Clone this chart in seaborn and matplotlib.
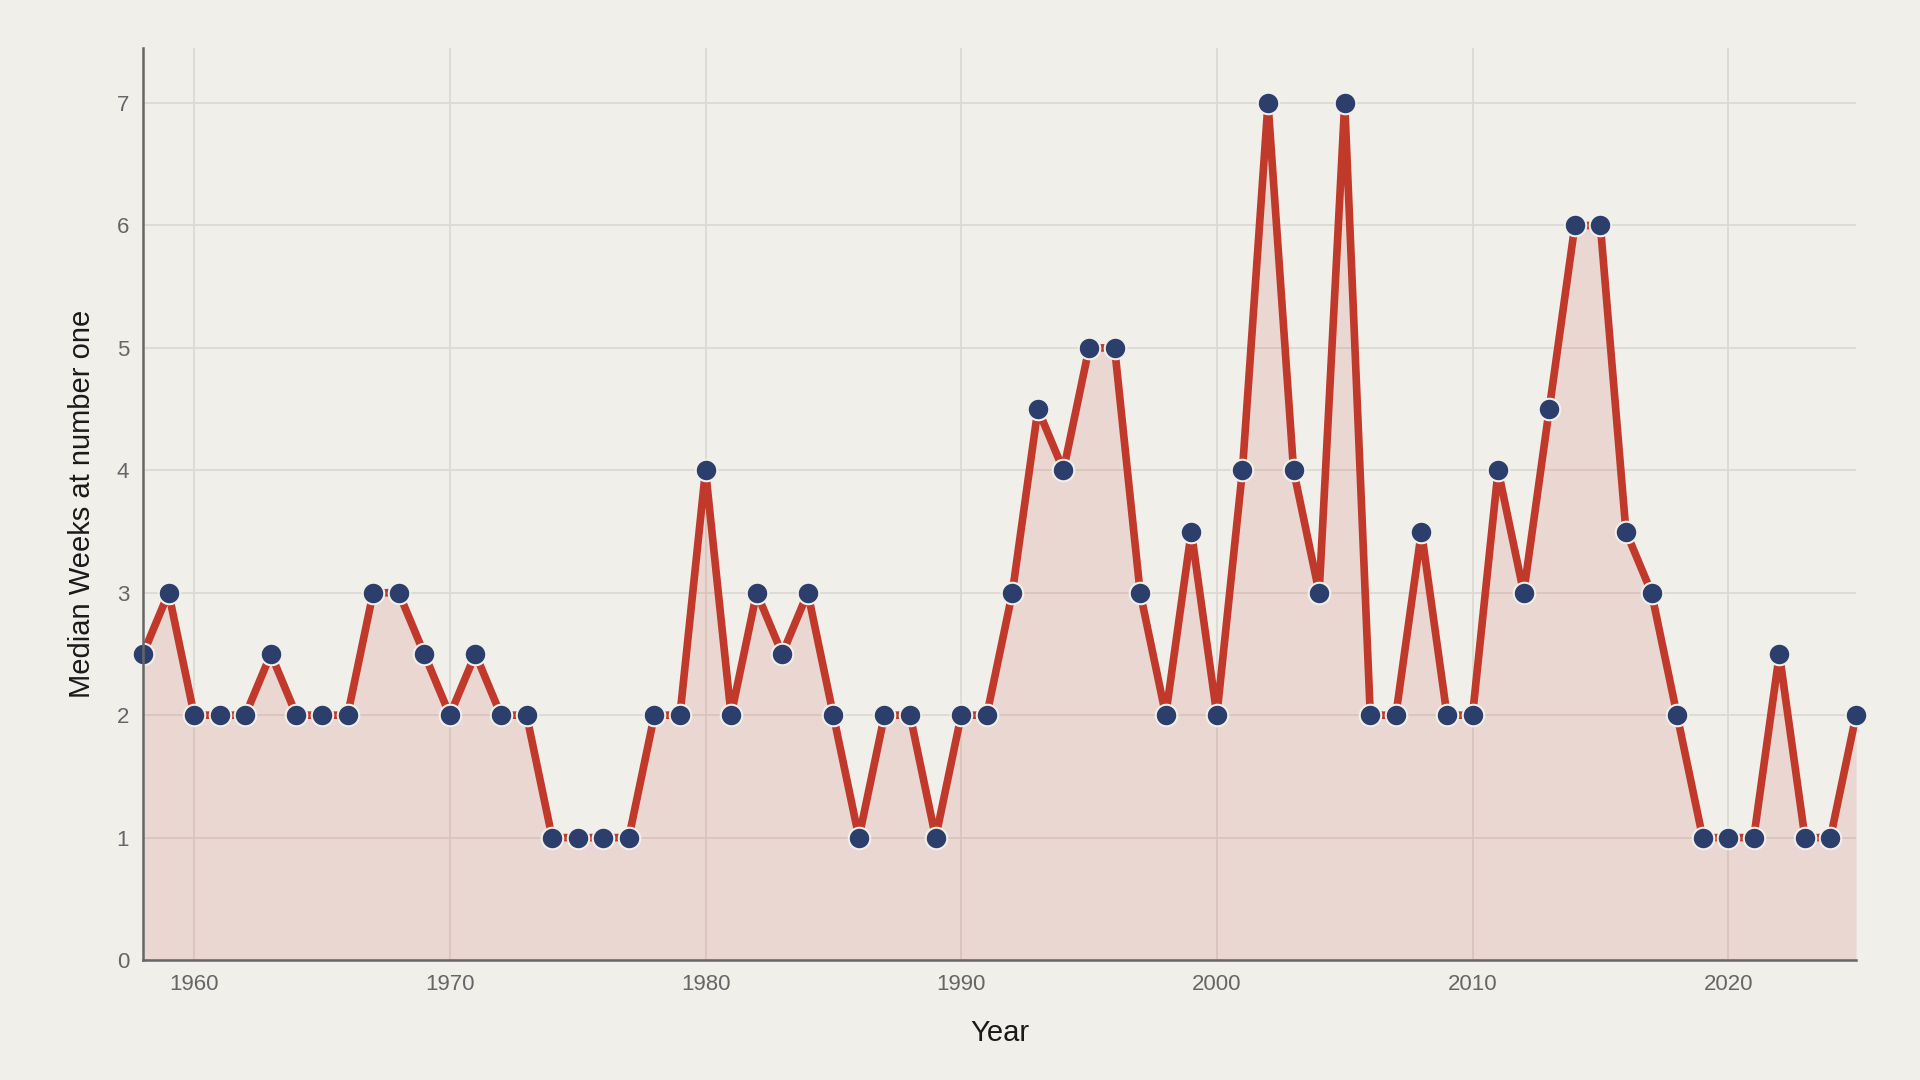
import matplotlib
matplotlib.use("Agg")
import matplotlib.pyplot as plt
import seaborn as sns
import pandas as pd
import numpy as np

years = list(range(1958, 2026))
weeks = [2.5, 3, 2, 2, 2, 2.5, 2, 2, 2, 3,
         3, 2.5, 2, 2.5, 2, 2, 1, 1, 1, 1,
         2, 2, 4, 2, 3, 2.5, 3, 2, 1, 2,
         2, 1, 2, 2, 3, 4.5, 4, 5, 5, 3,
         2, 3.5, 2, 4, 7, 4, 3, 7, 2, 2,
         3.5, 2, 2, 4, 3, 4.5, 6, 6, 3.5, 3,
         2, 1, 1, 1, 2.5, 1, 1, 2]

df = pd.DataFrame({"Year": years, "Weeks": weeks})

bg = "#f1efea"
sns.set_theme(style="white")
plt.rcParams['font.family'] = ['Liberation Sans', 'DejaVu Sans']

fig = plt.figure(figsize=(19.2, 10.8), dpi=100, facecolor=bg)
ax = fig.add_axes([0.0745, 0.1111, 0.8922, 0.8445])
ax.set_facecolor(bg)

ax.grid(True, color="#dcd8d3", linewidth=1.3, zorder=0)
ax.set_axisbelow(True)
ax.fill_between(df["Year"], df["Weeks"], 0, color="#c0392b", alpha=0.13,
                linewidth=0, zorder=1)
sns.lineplot(data=df, x="Year", y="Weeks", ax=ax, color="#c0392b", linewidth=5.5,
             marker="o", markersize=15.5, markerfacecolor="#2c3e6b",
             markeredgecolor="#f1efea", markeredgewidth=1.5, zorder=3, clip_on=False)

ax.set_xlim(1958, 2025)
ax.set_ylim(0, 7.45)
ax.set_yticks(range(0, 8))
ax.set_xticks(range(1960, 2021, 10))

for s in ["top", "right"]:
    ax.spines[s].set_visible(False)
for s in ["left", "bottom"]:
    ax.spines[s].set_color("#666666")
    ax.spines[s].set_linewidth(1.8)
    ax.spines[s].set_zorder(4)

ax.tick_params(axis="both", length=0, labelsize=16, labelcolor="#666666", pad=10)
ax.set_xlabel("Year", fontsize=21, color="#1a1a1a", labelpad=17)
ax.set_ylabel("Median Weeks at number one", fontsize=21, color="#1a1a1a", labelpad=15)

fig.savefig("out.png", dpi=100, facecolor=bg)
